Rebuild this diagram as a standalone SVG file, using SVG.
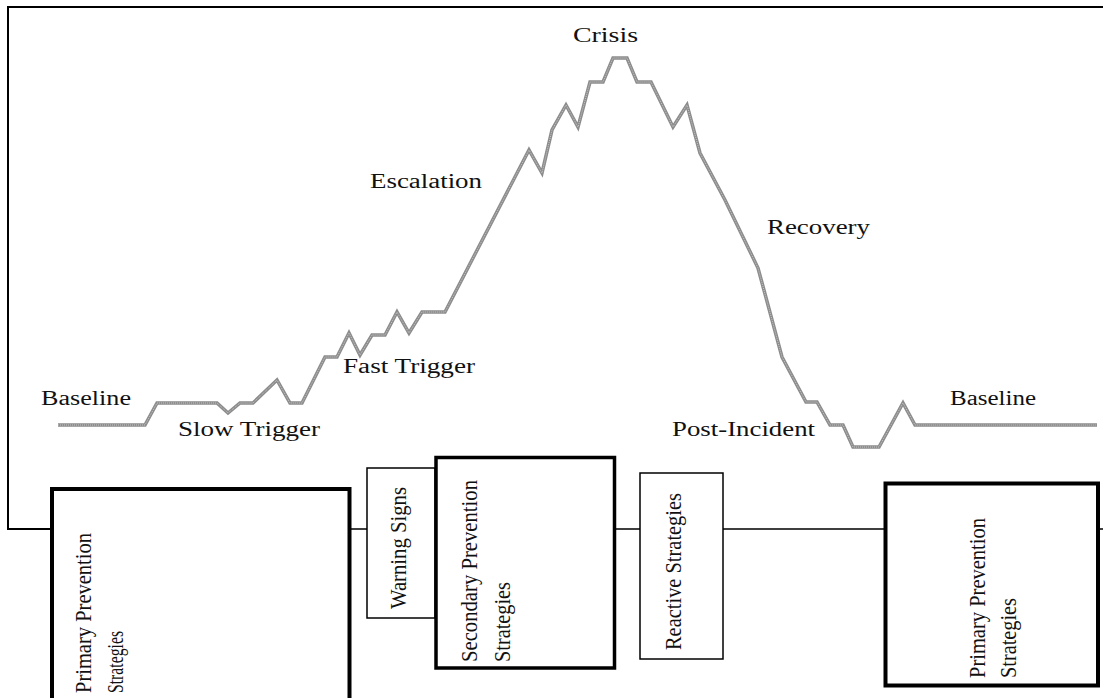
<svg xmlns="http://www.w3.org/2000/svg" width="1103" height="698" viewBox="0 0 1103 698">
<style>
.lbl{font-family:"Liberation Serif","Times New Roman",serif;font-size:20px;fill:#111}
.vt{font-family:"Liberation Serif","Times New Roman",serif;font-size:23px;fill:#111}
.thick{fill:#fff;stroke:#000;stroke-width:4}
.thin{fill:#fff;stroke:#000;stroke-width:1.5}
.ln{fill:none;stroke:#000;stroke-width:1.5}
.curve{fill:none;stroke:#8c8c8c;stroke-width:3.5;stroke-linejoin:miter}
.curve2{fill:none;stroke:#c8c8c8;stroke-width:1;stroke-dasharray:1 1}
</style>
<rect width="1103" height="698" fill="#fff"/>
<g id="connectors">
<path class="ln" d="M8,7 H1103 M8,6 V529 H52" style="stroke-width:2"/>
<path class="ln" d="M349,529 H367 M614,529 H640 M723,529 H885 M1098,529 H1103"/>
</g>
<g id="curve">
<polyline class="curve" points="58,425 145,425 157,403 217,403 228,413 240,403 253,403 277,380 290,403 302,403 325,357 337,357 349,333 360,355 372,335 385,335 397,312 409,333 422,312 445,312 529,150 542,173 552,130 566,105 578,127 590,82 603,82 613,58 627,58 637,82 651,82 673,127 687,105 700,153 725,200 758,268 782,357 806,402 817,402 830,425 843,425 853,447 879,447 903,403 915,425 1097,425"/>
<polyline class="curve2" points="58,425 145,425 157,403 217,403 228,413 240,403 253,403 277,380 290,403 302,403 325,357 337,357 349,333 360,355 372,335 385,335 397,312 409,333 422,312 445,312 529,150 542,173 552,130 566,105 578,127 590,82 603,82 613,58 627,58 637,82 651,82 673,127 687,105 700,153 725,200 758,268 782,357 806,402 817,402 830,425 843,425 853,447 879,447 903,403 915,425 1097,425"/>
</g>
<g id="labels">
<text class="lbl" x="41" y="405" textLength="90" lengthAdjust="spacingAndGlyphs">Baseline</text>
<text class="lbl" x="178" y="436" textLength="142" lengthAdjust="spacingAndGlyphs">Slow Trigger</text>
<text class="lbl" x="343" y="373" textLength="132" lengthAdjust="spacingAndGlyphs">Fast Trigger</text>
<text class="lbl" x="370" y="188" textLength="112" lengthAdjust="spacingAndGlyphs">Escalation</text>
<text class="lbl" x="573" y="42" textLength="65" lengthAdjust="spacingAndGlyphs">Crisis</text>
<text class="lbl" x="767" y="234" textLength="103" lengthAdjust="spacingAndGlyphs">Recovery</text>
<text class="lbl" x="672" y="436" textLength="143" lengthAdjust="spacingAndGlyphs">Post-Incident</text>
<text class="lbl" x="950" y="405" textLength="86" lengthAdjust="spacingAndGlyphs">Baseline</text>
</g>
<g id="primary-left">
<rect class="thick" x="52" y="489" width="297.5" height="230"/>
<text class="vt" transform="translate(91,693) rotate(-90)" textLength="160" lengthAdjust="spacingAndGlyphs">Primary Prevention</text>
<text class="vt" transform="translate(123,693) rotate(-90)" textLength="62" lengthAdjust="spacingAndGlyphs">Strategies</text>
</g>
<g id="warning-signs">
<rect class="thin" x="367" y="468" width="68" height="150"/>
<text class="vt" transform="translate(406,609) rotate(-90)" textLength="122" lengthAdjust="spacingAndGlyphs">Warning Signs</text>
</g>
<g id="secondary">
<rect class="thick" x="436" y="457.5" width="178.5" height="210.5" style="stroke-width:3.5"/>
<text class="vt" transform="translate(477,662) rotate(-90)" textLength="182" lengthAdjust="spacingAndGlyphs">Secondary Prevention</text>
<text class="vt" transform="translate(510,662) rotate(-90)" textLength="80" lengthAdjust="spacingAndGlyphs">Strategies</text>
</g>
<g id="reactive">
<rect class="thin" x="640" y="473" width="83" height="186"/>
<text class="vt" transform="translate(681,650) rotate(-90)" textLength="157" lengthAdjust="spacingAndGlyphs">Reactive Strategies</text>
</g>
<g id="primary-right">
<rect class="thick" x="885.5" y="483.5" width="212.5" height="202"/>
<text class="vt" transform="translate(985,678) rotate(-90)" textLength="160" lengthAdjust="spacingAndGlyphs">Primary Prevention</text>
<text class="vt" transform="translate(1016,678) rotate(-90)" textLength="80" lengthAdjust="spacingAndGlyphs">Strategies</text>
</g>
</svg>
